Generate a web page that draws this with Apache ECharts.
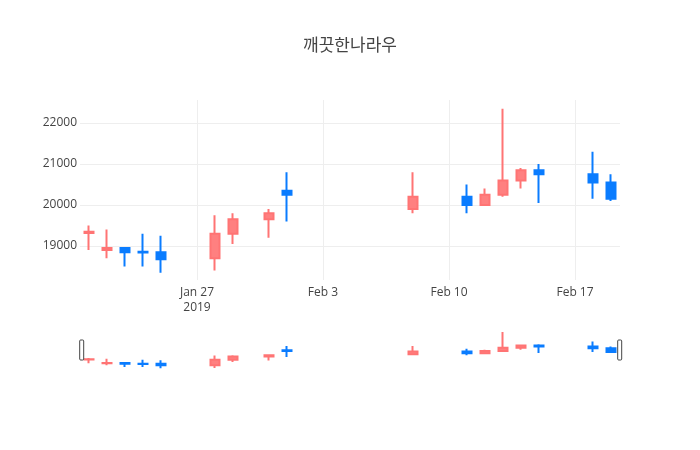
<!DOCTYPE html>
<html>
<head>
<meta charset="utf-8">
<script src="https://cdn.jsdelivr.net/npm/echarts@6/dist/echarts.min.js"></script>
<style>
  html, body { margin: 0; padding: 0; background: #fff; }
  #chart { width: 700px; height: 450px; }
</style>
</head>
<body>
<div id="chart"></div>
<script>
// 일별 시세
var dates = ["2019-01-21", "2019-01-22", "2019-01-23", "2019-01-24", "2019-01-25",
  "2019-01-28", "2019-01-29", "2019-01-31", "2019-02-01", "2019-02-08",
  "2019-02-11", "2019-02-12", "2019-02-13", "2019-02-14", "2019-02-15",
  "2019-02-18", "2019-02-19"];
var openPrices  = [19320, 18900, 18950, 18860, 18850, 18700, 19300, 19650, 20350, 19900,
  20200, 20000, 20250, 20600, 20850, 20750, 20550];
var closePrices = [19350, 18950, 18850, 18840, 18680, 19300, 19650, 19800, 20250, 20200,
  20000, 20250, 20600, 20850, 20750, 20550, 20150];
var lowPrices   = [18900, 18700, 18500, 18500, 18350, 18400, 19050, 19200, 19600, 19800,
  19800, 20000, 20200, 20400, 20050, 20150, 20100];
var highPrices  = [19500, 19400, 18950, 19300, 19250, 19750, 19800, 19900, 20800, 20800,
  20500, 20400, 22350, 20900, 21000, 21300, 20750];

var yTicks = [19000, 20000, 21000, 22000];
var xTickDates = ["2019-01-27", "2019-02-03", "2019-02-10", "2019-02-17"];
var xTickLabels = ["Jan 27\n2019", "Feb 3", "Feb 10", "Feb 17"];

var DAY = 24 * 3600 * 1000;
function toTime(s) {
  var p = s.split("-");
  return Date.UTC(+p[0], +p[1] - 1, +p[2]);
}

var candleData = dates.map(function (d, i) {
  return [toTime(d), openPrices[i], closePrices[i], lowPrices[i], highPrices[i]];
});
var xTickValues = xTickDates.map(toTime);

var xMin = toTime(dates[0]) - DAY / 2;
var xMax = toTime(dates[dates.length - 1]) + DAY / 2;
var yMin = 18171;
var yMax = 22561;

var upColor = "#FF8080";
var upBorder = "#FF7474";
var downColor = "#0A7CFF";
var downBorder = "#0A7CFF";

var fontFamily = '"Open Sans", verdana, arial, sans-serif';

var chart = echarts.init(document.getElementById("chart"));

var candleStyle = {
  color: upColor,
  color0: downColor,
  borderColor: upBorder,
  borderColor0: downBorder,
  borderWidth: 2
};

var option = {
  animation: false,
  backgroundColor: "#fff",
  title: {
    text: "깨끗한나라우",
    left: "center",
    top: 31,
    textStyle: {
      fontFamily: '"Noto Sans CJK KR", "Open Sans", sans-serif',
      fontSize: 17,
      fontWeight: "normal",
      color: "#444"
    }
  },
  grid: [
    { left: 80, right: 80, top: 100, height: 180 },
    { left: 80, right: 80, top: 330, height: 40 }
  ],
  xAxis: [
    {
      type: "value",
      gridIndex: 0,
      min: xMin,
      max: xMax,
      axisLine: { show: false },
      axisTick: { show: false, customValues: xTickValues },
      splitLine: { show: true, lineStyle: { color: "#eee", width: 1 } },
      axisLabel: {
        customValues: xTickValues,
        margin: 5,
        color: "#444",
        fontFamily: fontFamily,
        fontSize: 12,
        lineHeight: 15,
        formatter: function (v) {
          var k = xTickValues.indexOf(v);
          return k >= 0 ? xTickLabels[k] : "";
        }
      }
    },
    {
      type: "value",
      gridIndex: 1,
      min: xMin,
      max: xMax,
      show: false,
      splitLine: { show: false }
    }
  ],
  yAxis: [
    {
      type: "value",
      gridIndex: 0,
      min: yMin,
      max: yMax,
      axisLine: { show: false },
      axisTick: { show: false, customValues: yTicks },
      splitLine: { show: true, lineStyle: { color: "#eee", width: 1 } },
      axisLabel: {
        customValues: yTicks,
        margin: 3,
        color: "#444",
        fontFamily: fontFamily,
        fontSize: 12,
        formatter: function (v) { return String(v); }
      }
    },
    {
      type: "value",
      gridIndex: 1,
      min: yMin,
      max: yMax,
      show: false,
      splitLine: { show: false }
    }
  ],
  dataZoom: [
    {
      type: "slider",
      xAxisIndex: [0, 1],
      filterMode: "none",
      start: 0,
      end: 100,
      left: 80,
      right: 80,
      top: 330,
      height: 40,
      showDataShadow: false,
      showDetail: false,
      brushSelect: false,
      backgroundColor: "transparent",
      borderColor: "transparent",
      fillerColor: "transparent",
      moveHandleSize: 0,
      handleIcon: "path://M1,0 h2 a1,1 0 0 1 1,1 v18 a1,1 0 0 1 -1,1 h-2 a1,1 0 0 1 -1,-1 v-18 a1,1 0 0 1 1,-1 z",
      handleSize: "50%",
      handleStyle: { color: "#fff", borderColor: "#444", borderWidth: 1 },
      emphasis: { handleStyle: { color: "#fff", borderColor: "#444" } }
    }
  ],
  series: [
    {
      type: "candlestick",
      xAxisIndex: 0,
      yAxisIndex: 0,
      barWidth: 10,
      data: candleData,
      encode: { x: 0, y: [1, 2, 3, 4] },
      itemStyle: candleStyle
    },
    {
      type: "candlestick",
      xAxisIndex: 1,
      yAxisIndex: 1,
      barWidth: 10,
      data: candleData,
      encode: { x: 0, y: [1, 2, 3, 4] },
      itemStyle: candleStyle,
      silent: true
    }
  ]
};

chart.setOption(option);
</script>
</body>
</html>
